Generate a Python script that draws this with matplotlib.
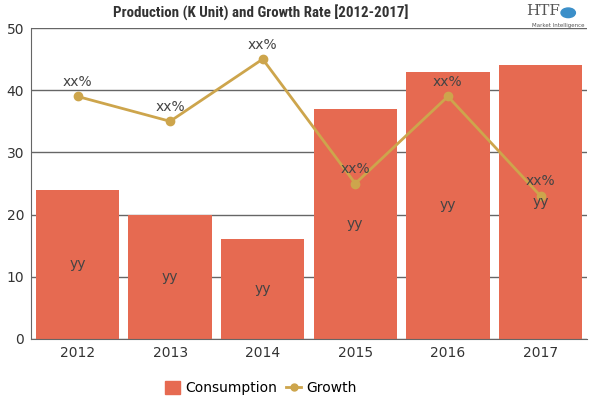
import matplotlib.pyplot as plt
import numpy as np
from matplotlib.lines import Line2D
from matplotlib.patches import Patch

years = ['2012', '2013', '2014', '2015', '2016', '2017']
consumption = [24, 20, 16, 37, 43, 44]
growth = [39, 35, 45, 25, 39, 23]
bar_labels = ['yy'] * 6
growth_labels = ['xx%'] * 6

bar_color = '#E66A51'
line_color = '#CDA54C'

fig = plt.figure(figsize=(6, 4), dpi=100)
ax = fig.add_axes([0.052, 0.1525, 0.926, 0.7775])

x = np.arange(len(years))
yticks = range(0, 51, 10)

# grid lines behind the bars
for t in yticks:
    ax.axhline(t, color='#666666', lw=1, zorder=1)

ax.bar(x, consumption, width=0.9, color=bar_color, zorder=3)
ax.plot(x, growth, color=line_color, lw=2, marker='o', ms=6, zorder=4)

for i in range(len(years)):
    ax.text(x[i], consumption[i] / 2, bar_labels[i], ha='center', va='center',
            fontsize=10, color='#444444', zorder=5)
    ax.text(x[i], growth[i] + 1.2, growth_labels[i], ha='center', va='bottom',
            fontsize=10, color='#444444', zorder=5)

ax.set_xlim(-0.5, len(years) - 0.5)
ax.set_ylim(0, 50)
ax.set_yticks(yticks)
ax.set_xticks(x)
ax.set_xticklabels(years)
ax.tick_params(axis='both', labelsize=10, colors='#333333', length=0, pad=5)
for side in ['top', 'right']:
    ax.spines[side].set_visible(False)
for side in ['left', 'bottom']:
    ax.spines[side].set_color('#666666')
    ax.spines[side].set_zorder(6)

fig.text(0.435, 0.968, 'Production (K Unit) and Growth Rate [2012-2017]',
         ha='center', va='center', fontsize=10.8, fontweight='bold',
         stretch='condensed',
         family=['DejaVu Sans Condensed', 'Liberation Sans Narrow',
                 'Roboto Condensed', 'DejaVu Sans'], color='#333333')

# logo stand-in
fig.text(0.905, 0.972, 'HTF', ha='center', va='center', fontsize=11,
         color='#555555', family='DejaVu Serif')
fig.text(0.93, 0.935, 'Market Intelligence', ha='center', va='center',
         fontsize=4, color='#555555')
fig.patches.append(plt.Circle((0.947, 0.968), 0.012, transform=fig.transFigure,
                              color='#3B8FC9', figure=fig))

handles = [Patch(color=bar_color, label='Consumption'),
           Line2D([0], [0], color=line_color, lw=2, marker='o', ms=5, label='Growth')]
fig.legend(handles=handles, loc='center', bbox_to_anchor=(0.435, 0.03), ncol=2,
           frameon=False, fontsize=10, handlelength=1.1, handleheight=1.1,
           columnspacing=0.6, handletextpad=0.4)

fig.savefig('out.png', dpi=100)
